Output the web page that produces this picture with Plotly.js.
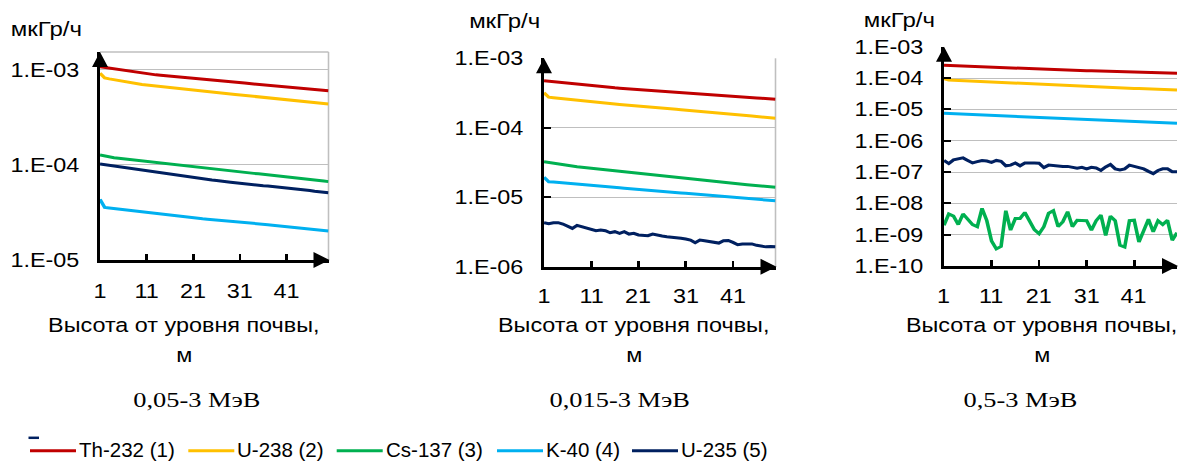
<!DOCTYPE html>
<html>
<head>
<meta charset="utf-8">
<script src="https://cdn.plot.ly/plotly-3.0.1.min.js"></script>
<style>
  html, body { margin: 0; padding: 0; background: #fff; overflow: hidden; }
  /* the three panels are drawn on a narrower canvas and widened horizontally */
  #chart { position: absolute; left: 0; top: 0; width: 986px; height: 463px;
           transform: scaleX(1.19980); transform-origin: 0 0; }
  #key { position: absolute; left: 0; top: 400px; width: 1183px; height: 63px; }
</style>
</head>
<body>
<div id="chart"></div>
<div id="key"></div>
<script>
// ---- data -------------------------------------------------------------
const heightM = [1,2,3,4,5,6,7,8,9,10,11,12,13,14,15,16,17,18,19,20,21,22,23,24,25,
                 26,27,28,29,30,31,32,33,34,35,36,37,38,39,40,41,42,43,44,45,46,47,48,49,50];
const xTickVals = [1, 11, 21, 31, 41];
const xTickText = ['1', '11', '21', '31', '41'];

const isotopeNames  = ['Th-232 (1)', 'U-238 (2)', 'Cs-137 (3)', 'K-40 (4)', 'U-235 (5)'];
const isotopeColors = ['#C00000', '#FFC000', '#00B050', '#00B0F0', '#002060'];

const energyBands = ['0,05-3 МэВ', '0,015-3 МэВ', '0,5-3 МэВ'];
const doseUnit = 'мкГр/ч';
const heightTitle = ['Высота от уровня почвы,', 'м'];

// dose rate, µGy/h — band 0.05–3 MeV
const th232_005 = [1.084e-3,1.065e-3,1.046e-3,1.028e-3,1.010e-3,9.92e-4,9.75e-4,9.57e-4,9.40e-4,9.24e-4,
  9.08e-4,8.98e-4,8.88e-4,8.78e-4,8.68e-4,8.58e-4,8.49e-4,8.39e-4,8.30e-4,8.20e-4,
  8.11e-4,8.03e-4,7.95e-4,7.88e-4,7.80e-4,7.73e-4,7.65e-4,7.58e-4,7.51e-4,7.43e-4,
  7.36e-4,7.28e-4,7.20e-4,7.12e-4,7.04e-4,6.96e-4,6.88e-4,6.80e-4,6.73e-4,6.65e-4,
  6.58e-4,6.52e-4,6.46e-4,6.40e-4,6.34e-4,6.28e-4,6.22e-4,6.17e-4,6.11e-4,6.05e-4];
const u238_005 = [9.23e-4,8.24e-4,8.05e-4,7.88e-4,7.71e-4,7.57e-4,7.43e-4,7.29e-4,7.16e-4,7.03e-4,
  6.95e-4,6.86e-4,6.78e-4,6.70e-4,6.62e-4,6.54e-4,6.46e-4,6.38e-4,6.30e-4,6.23e-4,
  6.15e-4,6.08e-4,6.01e-4,5.93e-4,5.86e-4,5.79e-4,5.73e-4,5.66e-4,5.59e-4,5.52e-4,
  5.46e-4,5.40e-4,5.35e-4,5.29e-4,5.24e-4,5.18e-4,5.13e-4,5.08e-4,5.02e-4,4.97e-4,
  4.92e-4,4.86e-4,4.80e-4,4.74e-4,4.68e-4,4.62e-4,4.56e-4,4.50e-4,4.44e-4,4.39e-4];
const cs137_005 = [1.274e-4,1.239e-4,1.205e-4,1.190e-4,1.175e-4,1.160e-4,1.145e-4,1.130e-4,1.116e-4,1.102e-4,
  1.087e-4,1.072e-4,1.057e-4,1.043e-4,1.028e-4,1.014e-4,1.000e-4,9.87e-5,9.73e-5,9.60e-5,
  9.49e-5,9.38e-5,9.27e-5,9.16e-5,9.05e-5,8.95e-5,8.84e-5,8.74e-5,8.64e-5,8.54e-5,
  8.44e-5,8.35e-5,8.25e-5,8.16e-5,8.07e-5,7.98e-5,7.89e-5,7.80e-5,7.71e-5,7.63e-5,
  7.54e-5,7.44e-5,7.34e-5,7.24e-5,7.14e-5,7.05e-5,6.95e-5,6.86e-5,6.77e-5,6.68e-5];
const k40_005 = [4.355e-5,3.573e-5,3.524e-5,3.476e-5,3.428e-5,3.381e-5,3.335e-5,3.289e-5,3.244e-5,3.199e-5,
  3.155e-5,3.112e-5,3.069e-5,3.027e-5,2.986e-5,2.945e-5,2.904e-5,2.864e-5,2.825e-5,2.786e-5,
  2.762e-5,2.738e-5,2.714e-5,2.690e-5,2.666e-5,2.643e-5,2.620e-5,2.597e-5,2.574e-5,2.551e-5,
  2.529e-5,2.499e-5,2.469e-5,2.440e-5,2.411e-5,2.382e-5,2.354e-5,2.326e-5,2.298e-5,2.271e-5,
  2.244e-5,2.218e-5,2.192e-5,2.166e-5,2.141e-5,2.116e-5,2.091e-5,2.066e-5,2.042e-5,2.018e-5];
const u235_005 = [1.026e-4,1.009e-4,9.93e-5,9.77e-5,9.61e-5,9.40e-5,9.30e-5,9.15e-5,9.05e-5,8.85e-5,
  8.70e-5,8.55e-5,8.40e-5,8.30e-5,8.11e-5,7.97e-5,7.83e-5,7.70e-5,7.56e-5,7.43e-5,
  7.33e-5,7.18e-5,7.14e-5,7.04e-5,6.95e-5,6.86e-5,6.80e-5,6.67e-5,6.58e-5,6.50e-5,
  6.41e-5,6.34e-5,6.28e-5,6.21e-5,6.14e-5,6.03e-5,6.02e-5,5.95e-5,5.89e-5,5.83e-5,
  5.77e-5,5.69e-5,5.61e-5,5.57e-5,5.46e-5,5.39e-5,5.28e-5,5.24e-5,5.17e-5,5.10e-5];

// band 0.015–3 MeV
const th232_0015 = [4.753e-4,4.673e-4,4.594e-4,4.516e-4,4.440e-4,4.365e-4,4.287e-4,4.211e-4,4.136e-4,4.062e-4,
  3.990e-4,3.942e-4,3.895e-4,3.849e-4,3.803e-4,3.758e-4,3.713e-4,3.669e-4,3.625e-4,3.582e-4,
  3.539e-4,3.496e-4,3.454e-4,3.412e-4,3.371e-4,3.330e-4,3.289e-4,3.249e-4,3.210e-4,3.171e-4,
  3.133e-4,3.102e-4,3.072e-4,3.041e-4,3.011e-4,2.982e-4,2.952e-4,2.923e-4,2.894e-4,2.866e-4,
  2.838e-4,2.807e-4,2.776e-4,2.746e-4,2.716e-4,2.686e-4,2.657e-4,2.628e-4,2.599e-4,2.570e-4];
const u238_0015 = [3.199e-4,2.761e-4,2.712e-4,2.664e-4,2.617e-4,2.570e-4,2.529e-4,2.489e-4,2.449e-4,2.410e-4,
  2.371e-4,2.335e-4,2.300e-4,2.265e-4,2.231e-4,2.197e-4,2.164e-4,2.131e-4,2.099e-4,2.068e-4,
  2.037e-4,2.012e-4,1.987e-4,1.962e-4,1.938e-4,1.914e-4,1.890e-4,1.867e-4,1.844e-4,1.821e-4,
  1.799e-4,1.776e-4,1.752e-4,1.730e-4,1.707e-4,1.685e-4,1.663e-4,1.641e-4,1.620e-4,1.599e-4,
  1.578e-4,1.553e-4,1.529e-4,1.505e-4,1.481e-4,1.458e-4,1.435e-4,1.412e-4,1.390e-4,1.368e-4];
const cs137_0015 = [3.243e-5,3.158e-5,3.074e-5,2.993e-5,2.914e-5,2.838e-5,2.790e-5,2.743e-5,2.697e-5,2.651e-5,
  2.606e-5,2.563e-5,2.521e-5,2.480e-5,2.439e-5,2.399e-5,2.359e-5,2.320e-5,2.282e-5,2.245e-5,
  2.208e-5,2.174e-5,2.140e-5,2.107e-5,2.074e-5,2.042e-5,2.010e-5,1.979e-5,1.948e-5,1.918e-5,
  1.888e-5,1.855e-5,1.823e-5,1.791e-5,1.760e-5,1.730e-5,1.700e-5,1.670e-5,1.641e-5,1.613e-5,
  1.585e-5,1.562e-5,1.539e-5,1.516e-5,1.494e-5,1.472e-5,1.450e-5,1.429e-5,1.408e-5,1.387e-5];
const k40_0015 = [1.932e-5,1.671e-5,1.651e-5,1.631e-5,1.611e-5,1.591e-5,1.572e-5,1.553e-5,1.534e-5,1.515e-5,
  1.496e-5,1.473e-5,1.451e-5,1.429e-5,1.408e-5,1.386e-5,1.366e-5,1.345e-5,1.325e-5,1.305e-5,
  1.285e-5,1.270e-5,1.254e-5,1.239e-5,1.224e-5,1.209e-5,1.194e-5,1.180e-5,1.165e-5,1.151e-5,
  1.138e-5,1.123e-5,1.108e-5,1.093e-5,1.079e-5,1.064e-5,1.050e-5,1.036e-5,1.023e-5,1.009e-5,
  9.954e-6,9.83e-6,9.71e-6,9.59e-6,9.47e-6,9.35e-6,9.23e-6,9.12e-6,9.00e-6,8.89e-6];
const u235_0015 = [4.30e-6,4.16e-6,4.30e-6,4.30e-6,4.11e-6,3.85e-6,3.56e-6,3.94e-6,3.77e-6,3.64e-6,
  3.44e-6,3.30e-6,3.37e-6,3.30e-6,3.08e-6,3.19e-6,3.02e-6,3.19e-6,2.95e-6,3.02e-6,
  2.86e-6,2.83e-6,2.79e-6,2.95e-6,2.83e-6,2.76e-6,2.70e-6,2.67e-6,2.61e-6,2.56e-6,
  2.50e-6,2.42e-6,2.21e-6,2.42e-6,2.37e-6,2.31e-6,2.29e-6,2.19e-6,2.37e-6,2.39e-6,
  2.24e-6,2.07e-6,2.12e-6,2.10e-6,2.13e-6,2.03e-6,1.96e-6,1.93e-6,1.95e-6,1.94e-6];

// band 0.5–3 MeV
const th232_05 = [2.535e-4,2.498e-4,2.461e-4,2.425e-4,2.390e-4,2.355e-4,2.320e-4,2.286e-4,2.253e-4,2.220e-4,
  2.188e-4,2.156e-4,2.125e-4,2.095e-4,2.064e-4,2.035e-4,2.005e-4,1.976e-4,1.948e-4,1.920e-4,
  1.892e-4,1.873e-4,1.855e-4,1.837e-4,1.818e-4,1.800e-4,1.783e-4,1.765e-4,1.748e-4,1.730e-4,
  1.714e-4,1.697e-4,1.680e-4,1.664e-4,1.647e-4,1.631e-4,1.615e-4,1.599e-4,1.583e-4,1.568e-4,
  1.552e-4,1.535e-4,1.519e-4,1.503e-4,1.487e-4,1.471e-4,1.455e-4,1.439e-4,1.424e-4,1.409e-4];
const u238_05 = [9.53e-5,8.63e-5,8.49e-5,8.35e-5,8.22e-5,8.08e-5,7.95e-5,7.82e-5,7.69e-5,7.57e-5,
  7.45e-5,7.30e-5,7.16e-5,7.02e-5,6.89e-5,6.75e-5,6.62e-5,6.49e-5,6.37e-5,6.24e-5,
  6.12e-5,6.03e-5,5.94e-5,5.85e-5,5.77e-5,5.68e-5,5.60e-5,5.52e-5,5.44e-5,5.36e-5,
  5.28e-5,5.22e-5,5.16e-5,5.09e-5,5.03e-5,4.97e-5,4.91e-5,4.85e-5,4.79e-5,4.73e-5,
  4.67e-5,4.61e-5,4.55e-5,4.49e-5,4.43e-5,4.37e-5,4.31e-5,4.25e-5,4.19e-5,4.14e-5];
const cs137_05 = [2.0e-9,4.6e-9,3.9e-9,2.1e-9,4.6e-9,3.2e-9,2.1e-9,1.8e-9,6.9e-9,2.8e-9,
  6.3e-10,3.5e-10,4.2e-10,5.8e-9,1.4e-9,3.3e-9,3.3e-9,5.1e-9,2.6e-9,1.45e-9,
  1.07e-9,1.8e-9,4.8e-9,5.8e-9,1.8e-9,2.6e-9,5.4e-9,1.8e-9,2.9e-9,2.9e-9,
  2.8e-9,1.4e-9,2.8e-9,4.2e-9,9.5e-10,3.9e-9,2.8e-9,4.6e-10,4.0e-10,2.8e-9,
  2.9e-9,5.8e-10,1.4e-9,3.1e-9,1.23e-9,2.8e-9,2.1e-9,2.9e-9,6.6e-10,1.15e-9];
const k40_05 = [7.45e-6,7.34e-6,7.24e-6,7.13e-6,7.03e-6,6.93e-6,6.83e-6,6.73e-6,6.63e-6,6.54e-6,
  6.44e-6,6.32e-6,6.19e-6,6.07e-6,5.95e-6,5.84e-6,5.72e-6,5.61e-6,5.50e-6,5.39e-6,
  5.28e-6,5.21e-6,5.13e-6,5.06e-6,4.99e-6,4.91e-6,4.84e-6,4.77e-6,4.70e-6,4.64e-6,
  4.57e-6,4.51e-6,4.46e-6,4.40e-6,4.35e-6,4.29e-6,4.24e-6,4.19e-6,4.13e-6,4.08e-6,
  4.03e-6,3.98e-6,3.92e-6,3.87e-6,3.82e-6,3.77e-6,3.72e-6,3.67e-6,3.62e-6,3.57e-6];
const u235_05 = [2.34e-7,1.86e-7,2.45e-7,2.57e-7,2.82e-7,2.34e-7,1.95e-7,2.14e-7,2.34e-7,2.24e-7,
  2.04e-7,2.34e-7,2.19e-7,1.58e-7,1.66e-7,1.95e-7,1.58e-7,1.95e-7,1.90e-7,1.93e-7,
  1.91e-7,1.38e-7,1.66e-7,1.58e-7,1.51e-7,1.51e-7,1.51e-7,1.38e-7,1.32e-7,1.41e-7,
  1.26e-7,1.41e-7,1.35e-7,1.12e-7,1.45e-7,1.74e-7,1.26e-7,1.17e-7,1.26e-7,1.66e-7,
  1.51e-7,1.38e-7,1.26e-7,1.05e-7,8.9e-8,1.12e-7,1.26e-7,1.26e-7,1.02e-7,1.02e-7];

const yTickVals005  = [1e-5, 1e-4, 1e-3];
const yTickText005  = ['1.E-05', '1.E-04', '1.E-03'];
const yTickVals0015 = [1e-6, 1e-5, 1e-4, 1e-3];
const yTickText0015 = ['1.E-06', '1.E-05', '1.E-04', '1.E-03'];
const yTickVals05   = [1e-10, 1e-9, 1e-8, 1e-7, 1e-6, 1e-5, 1e-4, 1e-3];
const yTickText05   = ['1.E-10', '1.E-09', '1.E-08', '1.E-07', '1.E-06', '1.E-05', '1.E-04', '1.E-03'];

const bandSeries = [
  [th232_005, u238_005, cs137_005, k40_005, u235_005],
  [th232_0015, u238_0015, cs137_0015, k40_0015, u235_0015],
  [th232_05, u238_05, cs137_05, k40_05, u235_05]
];
const bandTicks = [
  [yTickVals005, yTickText005],
  [yTickVals0015, yTickText0015],
  [yTickVals05, yTickText05]
];

// ---- page geometry (page pixels, 1183 x 463) ----------------------------
const PW = 1183, PH = 463;
const fx = x => x / PW;
const fy = y => 1 - y / PH;

const panels = [
  { l: 100, r: 328.5, t: 52,   b: 260,   logRange: [-5, -2.811], frameTop: true,  frameRight: true,  yTicks: '',       xLabelY: 290.5 },
  { l: 544, r: 775.5, t: 58.3, b: 266.7, logRange: [-6, -3],     frameTop: false, frameRight: true,  yTicks: 'inside', xLabelY: 295.5 },
  { l: 944, r: 1177,  t: 46.7, b: 266,   logRange: [-10, -3],    frameTop: false, frameRight: false, yTicks: 'inside', xLabelY: 295.5 }
];
const unitPos    = [[46, 29.5], [504, 21.3], [899, 20.3]];
const titleX     = [184, 634, 1042];
const captionX   = [197, 620, 1021];

const SANS  = 'Liberation Sans, Arial, sans-serif';
const SERIF = 'Liberation Serif, Times New Roman, serif';
const GRID  = '#BFBFBF';

const traces = [];
const layout = {
  width: 986, height: 463,
  margin: { l: 0, r: 0, t: 0, b: 0 },
  paper_bgcolor: '#fff', plot_bgcolor: 'rgba(0,0,0,0)',
  showlegend: false,
  font: { family: SANS, size: 19.5, color: '#000' },
  shapes: [], annotations: []
};

const note = (xref, x, y, text, font, xanchor) => ({
  xref: xref, yref: 'paper', x: x, y: y, text: text, showarrow: false,
  xanchor: xanchor || 'center', yanchor: 'middle', font: font
});
const sansFont = sz => ({ family: SANS, size: sz, color: '#000' });

panels.forEach((p, k) => {
  const sfx = k === 0 ? '' : String(k + 1);
  bandSeries[k].forEach((ys, s) => {
    traces.push({
      type: 'scatter', mode: 'lines', x: heightM, y: ys,
      xaxis: 'x' + sfx, yaxis: 'y' + sfx,
      line: { color: isotopeColors[s], width: 3 },
      name: isotopeNames[s], hoverinfo: 'skip'
    });
  });

  layout['xaxis' + sfx] = {
    domain: [fx(p.l), fx(p.r)], anchor: 'y' + sfx,
    range: [1, 50], tickmode: 'array', tickvals: xTickVals, ticktext: xTickText,
    ticks: 'inside', ticklen: 6, tickwidth: 2.2, tickcolor: '#000',
    showticklabels: false,
    showline: true, linecolor: '#000', linewidth: 3,
    showgrid: false, zeroline: false, fixedrange: true
  };
  layout['yaxis' + sfx] = {
    domain: [fy(p.b), fy(p.t)], anchor: 'x' + sfx,
    type: 'log', range: p.logRange,
    tickmode: 'array', tickvals: bandTicks[k][0], ticktext: bandTicks[k][1],
    ticks: p.yTicks, ticklen: 6, tickwidth: 2, tickcolor: '#000',
    showline: true, linecolor: '#000', linewidth: 2.3,
    showgrid: true, gridcolor: GRID, gridwidth: 1, zeroline: false,
    ticklabelstandoff: 11,
    tickfont: sansFont(19.5), fixedrange: true
  };

  // height tick labels, placed on the panel's own x scale
  xTickVals.forEach((v, j) => {
    layout.annotations.push(note('x' + sfx, v, fy(p.xLabelY), xTickText[j], sansFont(19.5)));
  });

  // plot-area frame
  if (p.frameTop) layout.shapes.push({ type: 'line', xref: 'paper', yref: 'paper',
    x0: fx(p.l), x1: fx(p.r), y0: fy(p.t), y1: fy(p.t), line: { color: GRID, width: 1.3 }, layer: 'below' });
  if (p.frameRight) layout.shapes.push({ type: 'line', xref: 'paper', yref: 'paper',
    x0: fx(p.r), x1: fx(p.r), y0: fy(p.b), y1: fy(p.t), line: { color: GRID, width: 1.3 }, layer: 'below' });

  // arrow heads on both axes
  const tri = pts => 'M' + pts.map(q => fx(q[0]) + ',' + fy(q[1])).join('L') + 'Z';
  layout.shapes.push({ type: 'path', xref: 'paper', yref: 'paper',
    path: tri([[p.l, p.t], [p.l - 8, p.t + 15], [p.l + 8, p.t + 15]]),
    fillcolor: '#000', line: { color: '#000', width: 0 } });
  layout.shapes.push({ type: 'path', xref: 'paper', yref: 'paper',
    path: tri([[p.r + 1, p.b], [p.r - 15, p.b - 8], [p.r - 15, p.b + 8]]),
    fillcolor: '#000', line: { color: '#000', width: 0 } });

  // unit, axis title and band caption
  layout.annotations.push(note('paper', fx(unitPos[k][0]), fy(unitPos[k][1]), doseUnit, sansFont(20)));
  layout.annotations.push(note('paper', fx(titleX[k]), fy(325.3), heightTitle[0], sansFont(19.5)));
  layout.annotations.push(note('paper', fx(titleX[k]), fy(354.7), heightTitle[1], sansFont(19.5)));
  layout.annotations.push(note('paper', fx(captionX[k]), fy(399.3), energyBands[k],
    { family: SERIF, size: 22, color: '#000' }));
});

Plotly.newPlot('chart', traces, layout, { staticPlot: true, displayModeBar: false });

// ---- shared key below the panels ---------------------------------------
const KH = 63, KTOP = 400;
const ky = y => 1 - (y - KTOP) / KH;
const keySlots = [30, 188.3, 336.7, 497, 632];   // left end of each key line
const keyLine = 46, keyGap = 47, keyY = 450.7;
const keyShapes = [{ type: 'line', xref: 'paper', yref: 'paper',
  x0: 28.5 / PW, x1: 39 / PW, y0: ky(437.8), y1: ky(437.8),
  line: { color: isotopeColors[4], width: 2.5 } }];
const keyNotes = [];
isotopeNames.forEach((nm, s) => {
  const x0 = keySlots[s];
  keyShapes.push({ type: 'line', xref: 'paper', yref: 'paper',
    x0: x0 / PW, x1: (x0 + keyLine) / PW, y0: ky(keyY), y1: ky(keyY),
    line: { color: isotopeColors[s], width: 3 } });
  keyNotes.push({ xref: 'paper', yref: 'paper', x: (x0 + keyGap) / PW, y: ky(keyY - 1),
    text: nm, showarrow: false, xanchor: 'left', yanchor: 'middle', font: sansFont(20.5) });
});
const keyLayout = {
  width: PW, height: KH, margin: { l: 0, r: 0, t: 0, b: 0 },
  paper_bgcolor: 'rgba(0,0,0,0)', plot_bgcolor: 'rgba(0,0,0,0)',
  xaxis: { visible: false }, yaxis: { visible: false },
  showlegend: false, shapes: keyShapes, annotations: keyNotes
};
Plotly.newPlot('key', [], keyLayout, { staticPlot: true, displayModeBar: false });
</script>
</body>
</html>
